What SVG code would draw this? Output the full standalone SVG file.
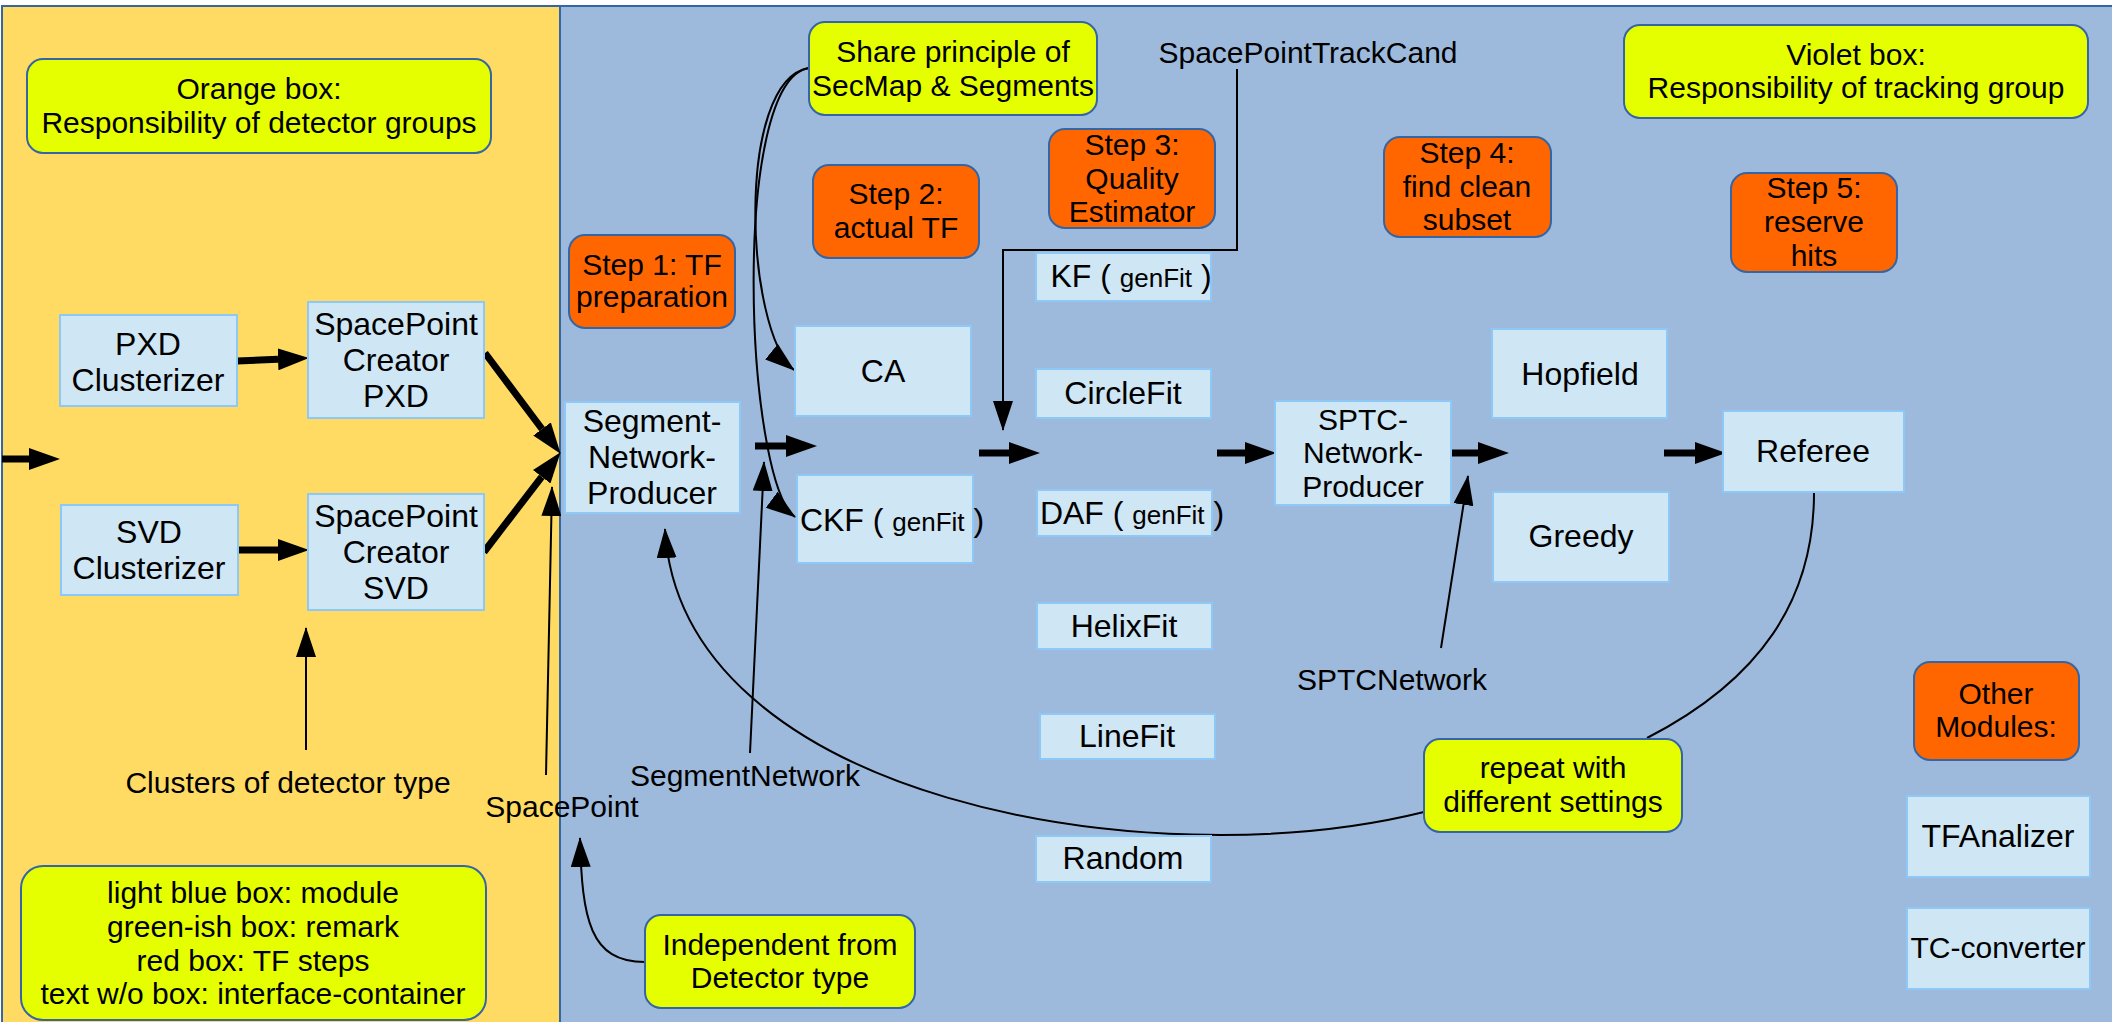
<svg xmlns="http://www.w3.org/2000/svg" width="2112" height="1022" viewBox="0 0 2112 1022">
<style>
text{font-family:"Liberation Sans",Arial,sans-serif;fill:#000;text-anchor:middle}
.t{font-size:30px}
.m{font-size:32px}
.g{font-size:26px}
.mod{fill:#cfe6f4;stroke:#8ec8f6;stroke-width:2}
.note{fill:#e6ff00;stroke:#3465a4;stroke-width:2}
.step{fill:#ff6600;stroke:#3465a4;stroke-width:2}
.thick{fill:none;stroke:#000;stroke-width:7;marker-end:url(#hk)}
.thin{fill:none;stroke:#000;stroke-width:2;marker-end:url(#hn)}
.plain{fill:none;stroke:#000;stroke-width:2}
</style>
<defs>
<marker id="hk" markerUnits="userSpaceOnUse" markerWidth="31" markerHeight="22" viewBox="0 0 31 22" refX="0" refY="11" orient="auto"><path d="M0,0 L31,11 L0,22 z" fill="#000"/></marker>
<marker id="hn" markerUnits="userSpaceOnUse" markerWidth="30" markerHeight="20" viewBox="0 0 30 20" refX="29" refY="10" orient="auto"><path d="M0,0 L30,10 L0,20 z" fill="#000"/></marker>
</defs>
<g id="background">
<rect x="2" y="6" width="558" height="1030" fill="#ffdb63" stroke="#3465a4" stroke-width="2"/>
<rect x="560" y="6" width="1570" height="1030" fill="#9dbadd" stroke="#3465a4" stroke-width="2"/>
</g>
<g id="connectors">
<path class="thick" d="M2,459 L29,459"/>
<path class="thick" d="M237,361 L278,359.3"/>
<path class="thick" d="M238,550 L278,550"/>
<path class="thick" d="M485,353 L542,429"/>
<path class="thick" d="M484,552 L541.7,476.8"/>
<path class="thick" d="M755,446 L786,446"/>
<path class="thick" d="M979,453 L1009,453"/>
<path class="thick" d="M1217,453 L1245,453"/>
<path class="thick" d="M1452,453 L1478,453"/>
<path class="thick" d="M1664,453 L1695,453"/>
<path class="thin" d="M306,750 L306,628"/>
<path class="thin" d="M546,775 L552,487"/>
<path class="thin" d="M750,753 L764,462"/>
<path class="thin" d="M1441,648 L1468,476"/>
<path class="thin" d="M1237,69 L1237,250 L1003,250 L1003,430"/>
<path class="thin" d="M809,68 C735,80 745,330 794,370"/>
<path class="thin" d="M809,68 C730,80 745,480 795,517"/>
<path class="thin" d="M1424,812 C1150,880 680,800 665,529"/>
<path class="plain" d="M1814,493 C1814,600 1760,680 1647,738"/>
<path class="thin" d="M645,962 C590,962 582,920 580,838"/>
</g>
<g id="note-orange"><rect class="note" x="27" y="59" width="464" height="94" rx="16"/><text class="t" x="259" y="99">Orange box:</text><text class="t" x="259" y="133">Responsibility of detector groups</text></g>
<g id="pxd-clusterizer"><rect class="mod" x="60" y="315" width="177" height="91"/><text class="m" x="148" y="355">PXD</text><text class="m" x="148" y="391">Clusterizer</text></g>
<g id="spc-pxd"><rect class="mod" x="308" y="302" width="176" height="116"/><text class="m" x="396" y="335">SpacePoint</text><text class="m" x="396" y="371">Creator</text><text class="m" x="396" y="407">PXD</text></g>
<g id="svd-clusterizer"><rect class="mod" x="61" y="505" width="177" height="90"/><text class="m" x="149" y="543">SVD</text><text class="m" x="149" y="579">Clusterizer</text></g>
<g id="spc-svd"><rect class="mod" x="308" y="494" width="176" height="116"/><text class="m" x="396" y="527">SpacePoint</text><text class="m" x="396" y="563">Creator</text><text class="m" x="396" y="599">SVD</text></g>
<g id="label-clusters"><text class="t" x="288" y="793">Clusters of detector type</text></g>
<g id="label-spacepoint"><text class="t" x="562" y="817">SpacePoint</text></g>
<g id="legend"><rect class="note" x="21" y="866" width="465" height="154" rx="22"/><text class="t" x="253" y="903">light blue box: module</text><text class="t" x="253" y="937">green-ish box: remark</text><text class="t" x="253" y="971">red box: TF steps</text><text class="t" x="253" y="1004">text w/o box: interface-container</text></g>
<g id="step1"><rect class="step" x="569" y="235" width="166" height="93" rx="16"/><text class="t" x="652" y="275">Step 1: TF</text><text class="t" x="652" y="307">preparation</text></g>
<g id="segment-network-producer"><rect class="mod" x="565" y="402" width="175" height="111"/><text class="m" x="652" y="432">Segment-</text><text class="m" x="652" y="468">Network-</text><text class="m" x="652" y="504">Producer</text></g>
<g id="note-share"><rect class="note" x="809" y="22" width="288" height="93" rx="16"/><text class="t" x="953" y="62">Share principle of</text><text class="t" x="953" y="96">SecMap &amp; Segments</text></g>
<g id="step2"><rect class="step" x="813" y="165" width="166" height="93" rx="16"/><text class="t" x="896" y="204">Step 2:</text><text class="t" x="896" y="238">actual TF</text></g>
<g id="step3"><rect class="step" x="1049" y="129" width="166" height="99" rx="16"/><text class="t" x="1132" y="155">Step 3:</text><text class="t" x="1132" y="189">Quality</text><text class="t" x="1132" y="222">Estimator</text></g>
<g id="label-sptc"><text class="t" x="1308" y="63">SpacePointTrackCand</text></g>
<g id="ca"><rect class="mod" x="795" y="326" width="176" height="90"/><text class="m" x="883" y="382">CA</text></g>
<g id="ckf"><rect class="mod" x="797" y="475" width="176" height="88"/><text class="m" x="892" y="531">CKF ( <tspan class="g">genFit</tspan> )</text></g>
<g id="kf"><rect class="mod" x="1036" y="253" width="175" height="48"/><text class="m" x="1131" y="287">KF ( <tspan class="g">genFit</tspan> )</text></g>
<g id="circlefit"><rect class="mod" x="1036" y="369" width="175" height="49"/><text class="m" x="1123" y="404">CircleFit</text></g>
<g id="daf"><rect class="mod" x="1037" y="490" width="175" height="46"/><text class="m" x="1132" y="524">DAF ( <tspan class="g">genFit</tspan> )</text></g>
<g id="helixfit"><rect class="mod" x="1037" y="603" width="175" height="46"/><text class="m" x="1124" y="637">HelixFit</text></g>
<g id="linefit"><rect class="mod" x="1040" y="714" width="175" height="45"/><text class="m" x="1127" y="747">LineFit</text></g>
<g id="random"><rect class="mod" x="1036" y="836" width="175" height="46"/><text class="m" x="1123" y="869">Random</text></g>
<g id="label-segmentnetwork"><text class="t" x="745" y="786">SegmentNetwork</text></g>
<g id="note-independent"><rect class="note" x="645" y="915" width="270" height="93" rx="16"/><text class="t" x="780" y="955">Independent from</text><text class="t" x="780" y="988">Detector type</text></g>
<g id="sptc-network-producer"><rect class="mod" x="1275" y="401" width="176" height="104"/><text class="t" x="1363" y="430">SPTC-</text><text class="t" x="1363" y="463">Network-</text><text class="t" x="1363" y="497">Producer</text></g>
<g id="label-sptcnetwork"><text class="t" x="1392" y="690">SPTCNetwork</text></g>
<g id="step4"><rect class="step" x="1384" y="137" width="167" height="100" rx="16"/><text class="t" x="1467" y="163">Step 4:</text><text class="t" x="1467" y="197">find clean</text><text class="t" x="1467" y="230">subset</text></g>
<g id="hopfield"><rect class="mod" x="1492" y="329" width="175" height="89"/><text class="m" x="1580" y="385">Hopfield</text></g>
<g id="greedy"><rect class="mod" x="1493" y="492" width="176" height="90"/><text class="m" x="1581" y="547">Greedy</text></g>
<g id="step5"><rect class="step" x="1731" y="173" width="166" height="99" rx="16"/><text class="t" x="1814" y="198">Step 5:</text><text class="t" x="1814" y="232">reserve</text><text class="t" x="1814" y="266">hits</text></g>
<g id="note-violet"><rect class="note" x="1624" y="25" width="464" height="93" rx="16"/><text class="t" x="1856" y="65">Violet box:</text><text class="t" x="1856" y="98">Responsibility of tracking group</text></g>
<g id="referee"><rect class="mod" x="1723" y="411" width="181" height="81"/><text class="m" x="1813" y="462">Referee</text></g>
<g id="note-repeat"><rect class="note" x="1424" y="739" width="258" height="93" rx="16"/><text class="t" x="1553" y="778">repeat with</text><text class="t" x="1553" y="812">different settings</text></g>
<g id="other-modules"><rect class="step" x="1914" y="662" width="165" height="98" rx="16"/><text class="t" x="1996" y="704">Other</text><text class="t" x="1996" y="737">Modules:</text></g>
<g id="tfanalizer"><rect class="mod" x="1907" y="796" width="183" height="81"/><text class="m" x="1998" y="847">TFAnalizer</text></g>
<g id="tc-converter"><rect class="mod" x="1907" y="908" width="183" height="81"/><text class="t" x="1998" y="958">TC-converter</text></g>
</svg>
